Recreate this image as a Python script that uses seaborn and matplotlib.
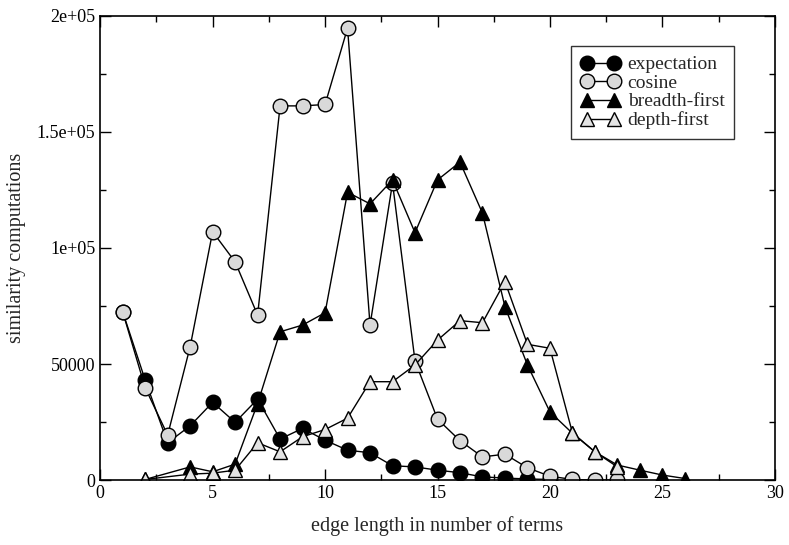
import numpy as np
import pandas as pd
import matplotlib
matplotlib.use("Agg")
import matplotlib.pyplot as plt
import seaborn as sns
from matplotlib.ticker import MultipleLocator, FuncFormatter

exp_x = list(range(1, 21))
exp_y = [72500, 43100, 16100, 23400, 33500, 24900, 34900, 17700, 22300, 17200,
         12900, 11800, 6200, 5700, 4300, 3200, 1400, 900, 500, 300]

cos_x = list(range(1, 24))
cos_y = [72500, 39800, 19400, 57500, 107000, 94000, 71100, 161200, 161200, 161800,
         194700, 66800, 128000, 51300, 26300, 17000, 10000, 11200, 5300, 1700,
         300, 0, 0]

bf_x = [2, 4, 5, 6, 7, 8, 9, 10, 11, 12, 13, 14, 15, 16, 17, 18, 19, 20, 21, 22, 23, 24, 25, 26]
bf_y = [300, 5700, 3600, 6900, 33000, 63900, 66800, 72100, 124000, 119000, 129300,
        106600, 129300, 137000, 115000, 74700, 49600, 29400, 20200, 12200, 6500,
        4300, 2200, 700]

df_x = [2, 4, 5, 6, 7, 8, 9, 10, 11, 12, 13, 14, 15, 16, 17, 18, 19, 20, 21, 22, 23]
df_y = [300, 2600, 3000, 4300, 16100, 12200, 18700, 21800, 26700, 42400, 42400,
        49600, 60300, 68700, 67800, 85500, 58500, 56800, 20400, 12200, 5700]

sns.set_theme(style="white")
plt.rcParams['font.family'] = ['Liberation Serif', 'DejaVu Serif']

fig = plt.figure(figsize=(7.89, 5.45), dpi=100)
ax = fig.add_axes([0.127, 0.119, 0.855, 0.852])

common = dict(color="black", linewidth=1.0, markeredgecolor="black",
              markeredgewidth=1.0, ax=ax)
sns.lineplot(x=exp_x, y=exp_y, marker="o", markersize=10.5,
             markerfacecolor="black", label="expectation", **common)
sns.lineplot(x=cos_x, y=cos_y, marker="o", markersize=10.5,
             markerfacecolor="#d9d9d9", label="cosine", **common)
sns.lineplot(x=bf_x, y=bf_y, marker="^", markersize=10.5,
             markerfacecolor="black", label="breadth-first", **common)
sns.lineplot(x=df_x, y=df_y, marker="^", markersize=10.5,
             markerfacecolor="#e3e3e3", label="depth-first", **common)

ax.set_xlim(0, 30)
ax.set_ylim(0, 200000)
ax.xaxis.set_major_locator(MultipleLocator(5))
ax.xaxis.set_minor_locator(MultipleLocator(2.5))
ax.yaxis.set_major_locator(MultipleLocator(50000))
ax.yaxis.set_minor_locator(MultipleLocator(25000))

def yfmt(v, pos):
    labels = {0: "0", 50000: "50000", 100000: "1e+05", 150000: "1.5e+05", 200000: "2e+05"}
    return labels.get(int(round(v)), "")
ax.yaxis.set_major_formatter(FuncFormatter(yfmt))

ax.tick_params(which="both", direction="in", top=True, right=True,
               bottom=True, left=True, colors="black", labelsize=13)
ax.tick_params(which="major", length=8, width=1.0)
ax.tick_params(which="minor", length=4, width=1.0)
for s in ax.spines.values():
    s.set_color("black")
    s.set_linewidth(1.2)

ax.set_xlabel("edge length in number of terms", fontsize=14.5, labelpad=10)
ax.set_ylabel("similarity computations", fontsize=14.5, labelpad=8)

leg = ax.legend(loc="upper right", bbox_to_anchor=(0.94, 0.935), numpoints=2,
                fontsize=14, frameon=True, fancybox=False, borderpad=0.5,
                handlelength=2.0, handletextpad=0.4, labelspacing=0.05,
                borderaxespad=0.0)
leg.get_frame().set_edgecolor("black")
leg.get_frame().set_linewidth(1.0)

fig.savefig("out.png", dpi=100)
